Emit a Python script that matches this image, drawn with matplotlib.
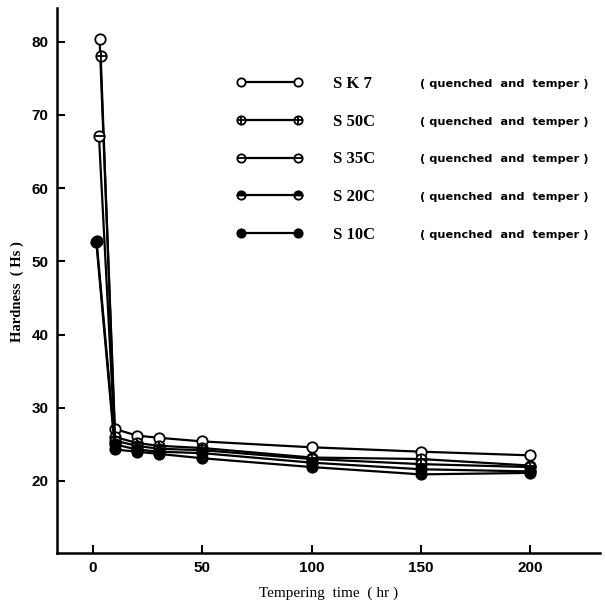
import matplotlib
matplotlib.use("Agg")
import matplotlib.pyplot as plt
from matplotlib.legend_handler import HandlerTuple

# ---- data ----
series_names = ["S K 7", "S 50C", "S 35C", "S 20C", "S 10C"]
series_note = "( quenched  and  temper )"
x_sk7 = [3, 10, 20, 30, 50, 100, 150, 200]
y_sk7 = [80.3, 27.1, 26.2, 25.9, 25.4, 24.6, 24.0, 23.5]
x_s50c = [3.5, 10, 20, 30, 50, 100, 150, 200]
y_s50c = [78.0, 26.0, 25.2, 24.8, 24.5, 23.2, 23.0, 22.1]
x_s35c = [2.7, 10, 20, 30, 50, 100, 150, 200]
y_s35c = [67.1, 25.5, 24.8, 24.4, 24.2, 23.0, 22.3, 21.9]
x_s20c = [1.6, 10, 20, 30, 50, 100, 150, 200]
y_s20c = [52.8, 25.0, 24.3, 24.0, 23.8, 22.5, 21.6, 21.3]
x_s10c = [1.5, 10, 20, 30, 50, 100, 150, 200]
y_s10c = [52.6, 24.3, 24.0, 23.7, 23.1, 21.9, 20.9, 21.1]
x_ticks = [0, 50, 100, 150, 200]
y_ticks = [20, 30, 40, 50, 60, 70, 80]

W, H = 605, 608
fig = plt.figure(figsize=(W / 100, H / 100), dpi=100)
ax = fig.add_axes([57 / W, 55 / H, (600 - 57) / W, (553 - 8) / H])
ax.set_xlim(-16.5, 232)
ax.set_ylim(10.16, 84.6)

for s in ["top", "right"]:
    ax.spines[s].set_visible(False)
for s in ["left", "bottom"]:
    ax.spines[s].set_linewidth(1.8)

ms = 7.5
lw = 1.6
kw = dict(color="black", lw=lw, markersize=ms, markeredgewidth=1.3, markeredgecolor="black")

h = []
# SK7: open circle
l1, = ax.plot(x_sk7, y_sk7, marker="o", markerfacecolor="white", zorder=3, **kw)
h.append((l1,))
# S50C: circle with cross
l2, = ax.plot(x_s50c, y_s50c, marker="o", markerfacecolor="white", zorder=3, **kw)
l2b, = ax.plot(x_s50c, y_s50c, marker="+", ls="none", color="black", markersize=ms, markeredgewidth=1.3, zorder=4)
h.append((l2, l2b))
# S35C: circle with horizontal bar
l3, = ax.plot(x_s35c, y_s35c, marker="o", markerfacecolor="white", zorder=3, **kw)
l3b, = ax.plot(x_s35c, y_s35c, marker="_", ls="none", color="black", markersize=ms, markeredgewidth=1.3, zorder=4)
h.append((l3, l3b))
# S20C: half filled
l4, = ax.plot(x_s20c, y_s20c, marker="o", markerfacecolor="black", markerfacecoloralt="white",
              fillstyle="top", zorder=3, **kw)
h.append((l4,))
# S10C: filled
l5, = ax.plot(x_s10c, y_s10c, marker="o", markerfacecolor="black", zorder=5, **kw)
h.append((l5,))

ax.set_xticks(x_ticks)
ax.set_yticks(y_ticks)
ax.tick_params(direction="in", length=6, width=1.5, pad=6)
for lab in ax.get_xticklabels() + ax.get_yticklabels():
    lab.set_fontfamily("Liberation Sans")
    lab.set_fontweight("bold")
    lab.set_fontsize(11)

ax.set_xlabel("Tempering  time  ( hr )", fontfamily="Liberation Serif", fontsize=11, labelpad=8)
ax.set_ylabel("Hardness  ( Hs )", fontfamily="Liberation Serif", fontweight="bold", fontsize=10.5, labelpad=2)
ax.yaxis.set_label_coords(-0.06, 0.48)

leg = ax.legend(h, series_names, handler_map={tuple: HandlerTuple(ndivide=1)},
                frameon=False, loc="upper left", bbox_to_anchor=(236 / W, 1 - 76 / H),
                bbox_transform=fig.transFigure, borderpad=0, borderaxespad=0,
                numpoints=2,
                handlelength=4.0, handletextpad=1.8, labelspacing=1.3,
                prop={"family": "Liberation Serif", "size": 12, "weight": "bold"},
                markerscale=0.8)

fig.canvas.draw()
inv = fig.transFigure.inverted()
for t in leg.get_texts():
    bb = t.get_window_extent()
    yc = (bb.y0 + bb.y1) / 2
    xf, yf = inv.transform((420, yc))
    fig.text(420 / W, yf, series_note, ha="left", va="center",
             fontfamily="DejaVu Sans", fontweight="bold", fontsize=8.2)

fig.savefig("out.png", dpi=100)
